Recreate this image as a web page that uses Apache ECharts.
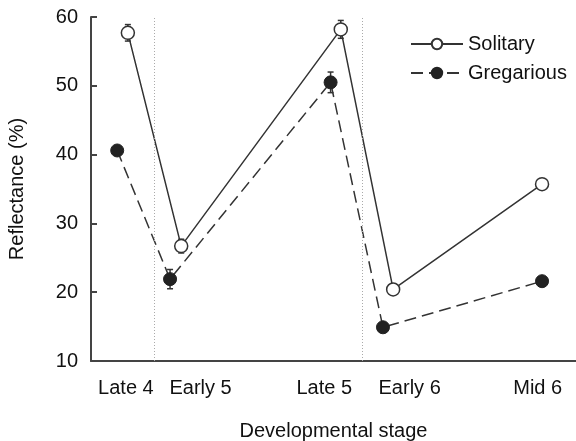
<!DOCTYPE html>
<html>
<head>
<meta charset="utf-8">
<script src="https://cdn.jsdelivr.net/npm/echarts@6/dist/echarts.min.js"></script>
<style>html,body{margin:0;padding:0;background:#fff}#c{width:576px;height:441px}</style>
</head>
<body>
<div id="c"></div>
<script>
var stages = ['Late 4', 'Early 5', 'Late 5', 'Early 6', 'Mid 6'];
var stageLabelPos = [0.72, 2.26, 4.81, 6.57, 9.21];
var solitaryX = [0.76, 1.86, 5.15, 6.23, 9.30];
var gregariousX = [0.54, 1.63, 4.94, 6.02, 9.30];
var solitary = [57.7, 26.7, 58.2, 20.4, 35.7];
var gregarious = [40.6, 21.9, 50.5, 14.9, 21.6];
var solitaryErr = [1.2, 1.0, 1.3, 0.5, 0.7];
var gregariousErr = [0.7, 1.4, 1.5, 0.5, 0.5];
var dividers = [1.30, 5.59];

function pairs(xs, ys) { return xs.map(function (x, i) { return [x, ys[i]]; }); }
function errData(xs, ys, es) { return xs.map(function (x, i) { return [x, ys[i] - es[i], ys[i] + es[i]]; }); }

function errRender(params, api) {
  var lo = api.coord([api.value(0), api.value(1)]);
  var hi = api.coord([api.value(0), api.value(2)]);
  var w = 3;
  var st = { stroke: '#333', lineWidth: 1.5 };
  return { type: 'group', children: [
    { type: 'line', shape: { x1: lo[0], y1: lo[1], x2: hi[0], y2: hi[1] }, style: st },
    { type: 'line', shape: { x1: lo[0] - w, y1: lo[1], x2: lo[0] + w, y2: lo[1] }, style: st },
    { type: 'line', shape: { x1: hi[0] - w, y1: hi[1], x2: hi[0] + w, y2: hi[1] }, style: st }
  ]};
}

var font = 'Liberation Sans, Arial, sans-serif';
var chart = echarts.init(document.getElementById('c'));
chart.setOption({
  animation: false,
  backgroundColor: '#fff',
  textStyle: { fontFamily: font },
  grid: { left: 91, right: 0, top: 17, bottom: 80, containLabel: false, outerBoundsMode: 'none' },
  legend: {
    orient: 'vertical', left: 405, top: 29, itemWidth: 52, itemHeight: 13, itemGap: 9,
    textStyle: { fontFamily: font, fontSize: 20, color: '#111' },
    data: ['Solitary', 'Gregarious']
  },
  xAxis: {
    type: 'value', min: 0, max: 10,
    name: 'Developmental stage', nameLocation: 'middle', nameGap: 60,
    nameTextStyle: { fontFamily: font, fontSize: 20, color: '#111' },
    axisLine: { show: true, lineStyle: { color: '#444', width: 2 } },
    axisTick: { show: false },
    splitLine: { show: false },
    axisLabel: {
      customValues: stageLabelPos, margin: 17, fontFamily: font, fontSize: 20, color: '#111',
      formatter: function (v) {
        var best = 0, d = 1e9;
        stageLabelPos.forEach(function (p, i) { if (Math.abs(p - v) < d) { d = Math.abs(p - v); best = i; } });
        return stages[best];
      }
    }
  },
  yAxis: {
    type: 'value', min: 10, max: 60, interval: 10,
    name: 'Reflectance (%)', nameLocation: 'middle', nameGap: 64, nameRotate: 90,
    nameTextStyle: { fontFamily: font, fontSize: 20, color: '#111' },
    axisLine: { show: true, lineStyle: { color: '#444', width: 2 } },
    axisTick: { show: true, inside: true, length: 6, lineStyle: { color: '#444', width: 2 } },
    splitLine: { show: false },
    axisLabel: { margin: 13, fontFamily: font, fontSize: 20, color: '#111' }
  },
  series: [
    {
      type: 'custom', name: 'solErr', renderItem: errRender, z: 1, silent: true,
      data: errData(solitaryX, solitary, solitaryErr)
    },
    {
      type: 'custom', name: 'grErr', renderItem: errRender, z: 1, silent: true,
      data: errData(gregariousX, gregarious, gregariousErr)
    },
    {
      name: 'Solitary', type: 'line', z: 3,
      data: pairs(solitaryX, solitary),
      symbol: 'circle', symbolSize: 13,
      itemStyle: { color: '#fff', borderColor: '#333', borderWidth: 1.5 },
      lineStyle: { color: '#333', width: 1.5, type: 'solid' },
      markLine: {
        silent: true, symbol: 'none', label: { show: false },
        lineStyle: { color: '#aaa', width: 1, type: [1, 2] },
        data: dividers.map(function (d) { return { xAxis: d }; })
      }
    },
    {
      name: 'Gregarious', type: 'line', z: 3,
      data: pairs(gregariousX, gregarious),
      symbol: 'circle', symbolSize: 13,
      itemStyle: { color: '#222', borderColor: '#222', borderWidth: 1 },
      lineStyle: { color: '#333', width: 1.5, type: [12, 6] }
    }
  ]
});
</script>
</body>
</html>
